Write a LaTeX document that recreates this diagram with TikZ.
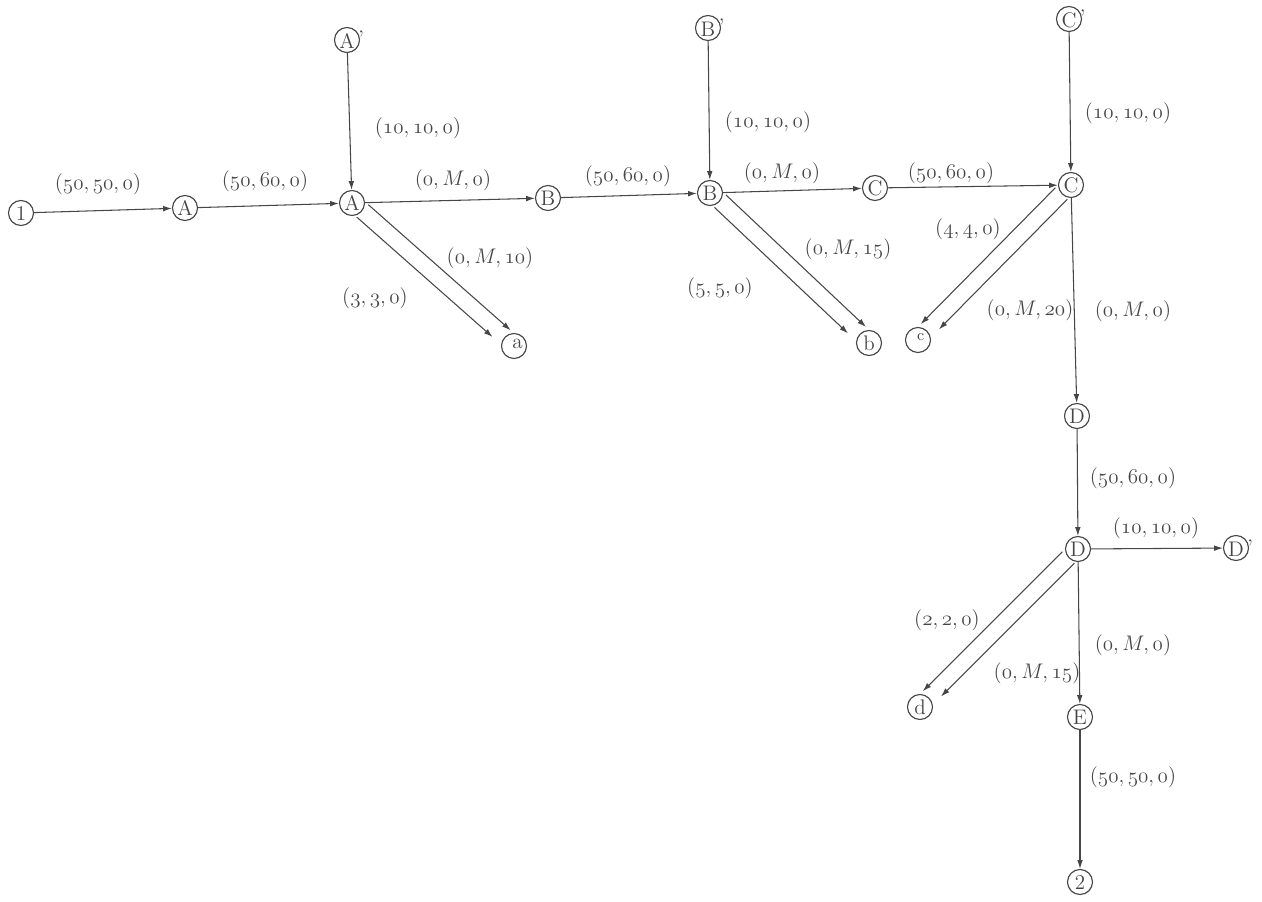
\documentclass[tikz,border=0pt]{standalone}
\usetikzlibrary{arrows.meta}
\definecolor{ink}{RGB}{70,70,70}
\newcommand\tri[3]{$(\mathnormal{#1},#2,\mathnormal{#3})$}
\newcommand\prm{\rlap{\kern2pt\raisebox{1.5pt}{\large'}}}
\begin{document}
\begin{tikzpicture}[x=0.02cm,y=-0.02cm,
  st/.style={circle,draw=ink,minimum size=0.5cm,inner sep=0pt,font=\large,text=ink,line width=0.65pt},
  lb/.style={font=\fontsize{12.5}{14}\selectfont,text=ink,inner sep=1pt},
  ar/.style={draw=ink,line width=0.6pt,-{Latex[length=5pt,width=3.2pt]}},
  sh/.style={transform canvas={shift={(#1)}}}]
\useasboundingbox (0,0) rectangle (1262,902);
% nodes
\node[st] (n1) at (21,213) {1};
\node[st] (A1) at (185,208) {A};
\node[st] (A2) at (352,203) {A};
\node[st] (Ap) at (347,40) {A\prm};
\node[st] (a) at (514,346) {\hspace*{4pt}\raisebox{3pt}{a}};
\node[st] (B1) at (548,198) {B};
\node[st] (B2) at (710,193) {B};
\node[st] (Bp) at (708,28) {B\prm};
\node[st] (b) at (869,343) {b};
\node[st] (C1) at (875,188) {C};
\node[st] (C2) at (1071,185) {C};
\node[st] (Cp) at (1069,19) {C\prm};
\node[st] (c) at (918,340) {\hspace*{3pt}\raisebox{4pt}{\small c}};
\node[st] (D1) at (1077,416) {D};
\node[st] (D2) at (1078,549) {D};
\node[st] (Dp) at (1236,548) {D\prm};
\node[st] (d) at (920,707) {d};
\node[st] (E) at (1080,717) {E};
\node[st] (n2) at (1080,882) {2};
% edges
\draw[ar] (n1) -- (A1);
\draw[ar] (A1) -- (A2);
\draw[ar] (Ap) -- (A2);
\draw[ar] (A2) -- (B1);
\draw[ar,sh={6.5,-7}] (A2) -- (a);
\draw[ar,sh={-5,5.5},shorten >=5pt] (A2) -- (a);
\draw[ar] (B1) -- (B2);
\draw[ar] (Bp) -- (B2);
\draw[ar] (B2) -- (C1);
\draw[ar,sh={6.5,-7}] (B2) -- (b);
\draw[ar,sh={-5,5.5},shorten >=5pt] (B2) -- (b);
\draw[ar] (C1) -- (C2);
\draw[ar] (Cp) -- (C2);
\draw[ar,sh={-6.5,-6.5}] (C2) -- (c);
\draw[ar,sh={5.5,5},shorten >=5pt] (C2) -- (c);
\draw[ar] (C2) -- (D1);
\draw[ar] (D1) -- (D2);
\draw[ar] (D2) -- (Dp);
\draw[ar,sh={-6.5,-6.5}] (D2) -- (d);
\draw[ar,sh={5.5,5},shorten >=5pt] (D2) -- (d);
\draw[ar] (D2) -- (E);
\draw[ar] (E) -- (n2);
% labels
\node[lb] (l1) at (98,184) {\tri{50}{\mathnormal{50}}{0}};
\node[lb] (l2) at (265,181) {\tri{50}{\mathnormal{60}}{0}};
\node[lb] (l3) at (418,128) {\tri{10}{\mathnormal{10}}{0}};
\node[lb] (l4) at (453,180) {\tri{0}{M}{0}};
\node[lb] (l5) at (490,258) {\tri{0}{M}{10}};
\node[lb] (l6) at (375,298) {\tri{3}{\mathnormal{3}}{0}};
\node[lb] (l7) at (628,176) {\tri{50}{\mathnormal{60}}{0}};
\node[lb] (l8) at (768,122) {\tri{10}{\mathnormal{10}}{0}};
\node[lb] (l9) at (782,173) {\tri{0}{M}{0}};
\node[lb] (l10) at (848,249) {\tri{0}{M}{15}};
\node[lb] (l11) at (720,288) {\tri{5}{\mathnormal{5}}{0}};
\node[lb] (l12) at (951,173) {\tri{50}{\mathnormal{60}}{0}};
\node[lb] (l13) at (1128,113) {\tri{10}{\mathnormal{10}}{0}};
\node[lb] (l14) at (968,229) {\tri{4}{\mathnormal{4}}{0}};
\node[lb] (l15) at (1030,310) {\tri{0}{M}{20}};
\node[lb] (l16) at (1133,311) {\tri{0}{M}{0}};
\node[lb] (l17) at (1133,478) {\tri{50}{\mathnormal{60}}{0}};
\node[lb] (l18) at (1156,528) {\tri{10}{\mathnormal{10}}{0}};
\node[lb] (l19) at (947,620) {\tri{2}{\mathnormal{2}}{0}};
\node[lb] (l20) at (1133,645) {\tri{0}{M}{0}};
\node[lb] (l21) at (1037,673) {\tri{0}{M}{15}};
\node[lb] (l22) at (1133,777) {\tri{50}{\mathnormal{50}}{0}};
\end{tikzpicture}
\end{document}
